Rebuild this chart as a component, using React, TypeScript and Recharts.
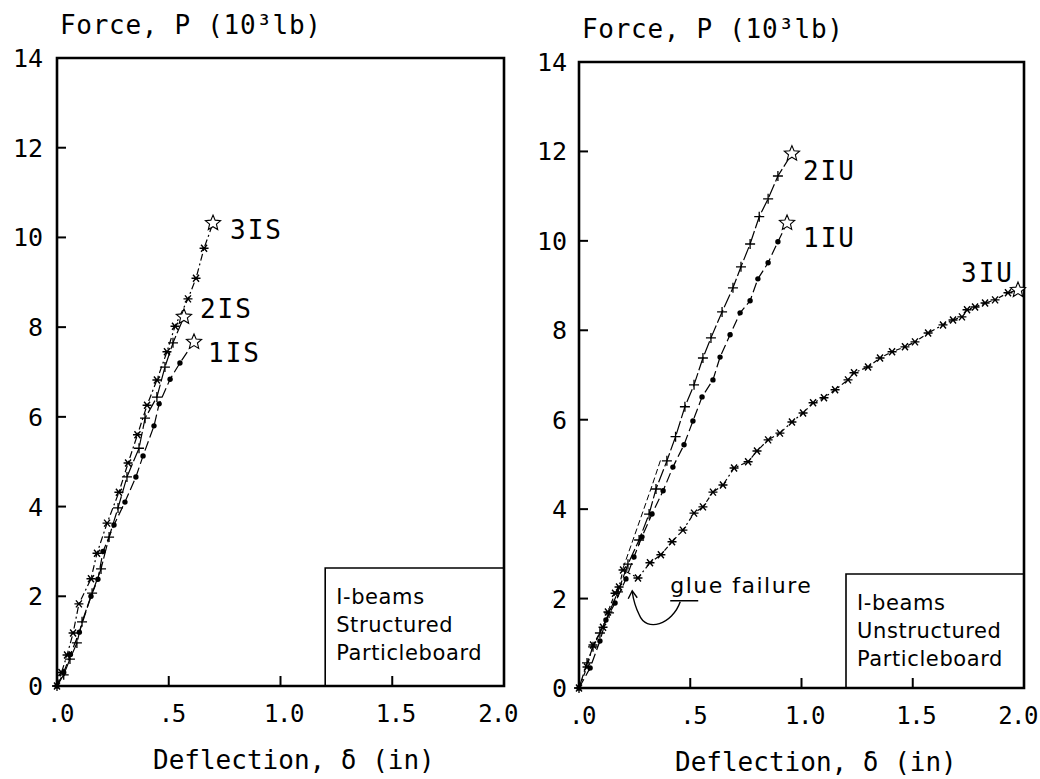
import React from "react";
import { LineChart, Line, XAxis, YAxis, ReferenceArea, ReferenceDot } from "recharts";

const xTicks = [0, 0.5, 1, 1.5, 2];
const xTickLabels = [".0", ".5", "1.0", "1.5", "2.0"];
const yTicks = [0, 2, 4, 6, 8, 10, 12, 14];

const forceTitle = "Force, P (10³lb)";
const deflTitle = "Deflection, δ (in)";
const structuredBox = ["I-beams", "Structured", "Particleboard"];
const unstructuredBox = ["I-beams", "Unstructured", "Particleboard"];
const glueNote = "glue failure";

// structured particleboard I-beams
const is1X = [0, 0.03, 0.06, 0.1, 0.152, 0.183, 0.206, 0.255, 0.304, 0.353, 0.385, 0.434, 0.457, 0.506, 0.55, 0.613];
const is1Y = [0, 0.3, 0.7, 1.2, 2.0, 2.38, 3.0, 3.59, 4.1, 4.66, 5.13, 5.8, 6.29, 6.84, 7.2, 7.67];
const is2X = [0, 0.03, 0.058, 0.089, 0.112, 0.157, 0.197, 0.233, 0.273, 0.313, 0.367, 0.394, 0.447, 0.483, 0.519, 0.568];
const is2Y = [0, 0.25, 0.6, 0.96, 1.43, 2.07, 2.61, 3.32, 3.97, 4.66, 5.3, 5.97, 6.44, 7.11, 7.65, 8.23];
const is3X = [0, 0.02, 0.045, 0.072, 0.098, 0.152, 0.179, 0.224, 0.277, 0.318, 0.36, 0.403, 0.447, 0.492, 0.528, 0.586, 0.622, 0.658, 0.698];
const is3Y = [0, 0.3, 0.69, 1.18, 1.83, 2.39, 2.96, 3.63, 4.32, 4.97, 5.6, 6.26, 6.82, 7.45, 8.02, 8.63, 9.09, 9.76, 10.32];

// unstructured particleboard I-beams
const iu1X = [0, 0.05, 0.094, 0.121, 0.162, 0.211, 0.247, 0.283, 0.328, 0.378, 0.422, 0.472, 0.512, 0.553, 0.602, 0.634, 0.679, 0.724, 0.769, 0.804, 0.85, 0.894, 0.935];
const iu1Y = [0, 0.45, 1.05, 1.52, 1.9, 2.44, 2.93, 3.38, 3.89, 4.41, 4.94, 5.44, 5.97, 6.51, 6.89, 7.4, 7.9, 8.39, 8.66, 9.15, 9.51, 9.98, 10.4];
const iu2X = [0, 0.036, 0.063, 0.094, 0.135, 0.175, 0.22, 0.27, 0.315, 0.346, 0.395, 0.434, 0.476, 0.517, 0.557, 0.593, 0.643, 0.692, 0.728, 0.769, 0.81, 0.85, 0.894, 0.957];
const iu2Y = [0, 0.56, 0.92, 1.23, 1.68, 2.15, 2.77, 3.31, 3.89, 4.45, 5.08, 5.62, 6.29, 6.78, 7.38, 7.83, 8.41, 8.95, 9.42, 9.93, 10.54, 10.94, 11.45, 11.95];
const iu3X = [0, 0.036, 0.063, 0.108, 0.13, 0.162, 0.18, 0.198, 0.265, 0.319, 0.368, 0.418, 0.467, 0.517, 0.557, 0.602, 0.647, 0.697, 0.76, 0.8, 0.85, 0.903, 0.957, 1.007, 1.052, 1.101, 1.151, 1.209, 1.236, 1.299, 1.353, 1.407, 1.465, 1.51, 1.569, 1.636, 1.681, 1.721, 1.744, 1.78, 1.825, 1.87, 1.928, 1.973];
const iu3Y = [0, 0.47, 0.96, 1.36, 1.7, 2.12, 2.26, 2.64, 2.46, 2.8, 2.98, 3.27, 3.53, 3.91, 4.05, 4.38, 4.54, 4.92, 5.06, 5.3, 5.55, 5.7, 5.95, 6.15, 6.38, 6.49, 6.67, 6.89, 7.05, 7.18, 7.38, 7.52, 7.63, 7.74, 7.94, 8.12, 8.23, 8.3, 8.46, 8.52, 8.61, 8.68, 8.84, 8.9];
const iuGhostX = [0.198, 0.33, 0.37];
const iuGhostY = [2.68, 4.55, 5.15];

const zip = (xs: number[], ys: number[]) => xs.map((x, i) => ({ x, y: ys[i] }));

const MONO = "'DejaVu Sans Mono', monospace";
const HAND = "'DejaVu Sans', sans-serif";

type Series = {
  name: string;
  data: { x: number; y: number }[];
  marker: "dot" | "plus" | "ast";
  dash: string;
  ldx: number;
  ldy: number;
  anchor?: "start" | "end";
};

const leftSeries: Series[] = [
  { name: "1IS", data: zip(is1X, is1Y), marker: "dot", dash: "10 4", ldx: 14, ldy: 20 },
  { name: "2IS", data: zip(is2X, is2Y), marker: "plus", dash: "14 3", ldx: 16, ldy: 1 },
  { name: "3IS", data: zip(is3X, is3Y), marker: "ast", dash: "7 3 2 3", ldx: 17, ldy: 16 },
];

const rightSeries: Series[] = [
  { name: "1IU", data: zip(iu1X, iu1Y), marker: "dot", dash: "10 4", ldx: 16, ldy: 24 },
  { name: "2IU", data: zip(iu2X, iu2Y), marker: "plus", dash: "14 3", ldx: 11, ldy: 26 },
  { name: "3IU", data: zip(iu3X, iu3Y), marker: "ast", dash: "5 3 2 3", ldx: -4, ldy: -8, anchor: "end" },
];

function starPath(cx: number, cy: number, R: number, r: number) {
  let d = "";
  for (let i = 0; i < 10; i++) {
    const a = ((-90 + i * 36) * Math.PI) / 180;
    const rad = i % 2 === 0 ? R : r;
    d += (i === 0 ? "M" : "L") + (cx + rad * Math.cos(a)).toFixed(2) + "," + (cy + rad * Math.sin(a)).toFixed(2);
  }
  return d + "Z";
}

function Marker({ cx, cy, kind }: { cx: number; cy: number; kind: string }) {
  if (kind === "dot") return <circle cx={cx} cy={cy} r={2.7} fill="#000" />;
  if (kind === "plus")
    return <path d={`M${cx - 5},${cy}H${cx + 5}M${cx},${cy - 5}V${cy + 5}`} stroke="#000" strokeWidth={1.3} />;
  return (
    <path
      d={`M${cx - 4.5},${cy}H${cx + 4.5}M${cx - 3},${cy - 3.5}L${cx + 3},${cy + 3.5}M${cx - 3},${cy + 3.5}L${cx + 3},${cy - 3.5}`}
      stroke="#000"
      strokeWidth={1.4}
    />
  );
}

const makeDot = (s: Series) => (p: any) => {
  const { cx, cy, index } = p;
  if (cx == null || cy == null) return <g key={`d${index}`} />;
  if (index === s.data.length - 1) {
    return (
      <g key={`d${index}`}>
        <path d={starPath(cx, cy, 8, 3.6)} fill="#fff" stroke="#000" strokeWidth={1.1} />
        <text
          x={cx + s.ldx}
          y={cy + s.ldy}
          textAnchor={s.anchor || "start"}
          fontFamily={MONO}
          fontSize={26}
          letterSpacing={2}
          fill="#000"
        >
          {s.name}
        </text>
      </g>
    );
  }
  return (
    <g key={`d${index}`}>
      <Marker cx={cx} cy={cy} kind={s.marker} />
    </g>
  );
};

function YTick(p: any) {
  const { x, y, payload, gap } = p;
  const v = payload.value;
  return (
    <g>
      {v > 0 && v < 14 ? <line x1={x} x2={x + 9} y1={y} y2={y} stroke="#000" strokeWidth={2} /> : null}
      <text x={x - gap} y={y + 9} textAnchor="end" fontFamily={MONO} fontSize={25} fill="#000">
        {v}
      </text>
    </g>
  );
}

function XTick(p: any) {
  const { x, y, payload } = p;
  const v = payload.value;
  const i = xTicks.indexOf(v);
  const last = v === 2;
  return (
    <g>
      {v > 0 && v < 2 ? <line x1={x} x2={x} y1={y} y2={y - 10} stroke="#000" strokeWidth={2} /> : null}
      <text
        x={last ? x + 13 : x + 3}
        y={y + 36}
        textAnchor={last ? "end" : "middle"}
        fontFamily={MONO}
        fontSize={24}
        letterSpacing={-1.5}
        fill="#000"
      >
        {xTickLabels[i]}
      </text>
    </g>
  );
}

function BoxText({ cx, cy, lines }: any) {
  return (
    <text fontFamily={HAND} fontSize={21} letterSpacing={0.6} fill="#000">
      {lines.map((t: string, i: number) => (
        <tspan key={t + i} x={cx + 11} y={cy + 36 + i * 28}>
          {t}
        </tspan>
      ))}
    </text>
  );
}

function GlueNote({ cx, cy }: any) {
  return (
    <g>
      <text x={cx} y={cy} fontFamily={HAND} fontSize={22} letterSpacing={1.5} fill="#000">
        {glueNote}
      </text>
      <path d={`M${cx},${cy + 8}H${cx + 28}`} stroke="#000" strokeWidth={1.5} />
      <path
        d={`M${cx + 10},${cy + 9} C${cx + 2},${cy + 32} ${cx - 24},${cy + 40} ${cx - 31},${cy + 22} C${cx - 35},${cy + 14} ${cx - 37},${cy + 6} ${cx - 38},${cy - 1}`}
        fill="none"
        stroke="#000"
        strokeWidth={1.4}
      />
      <path d={`M${cx - 42},${cy + 6}L${cx - 38},${cy - 2}L${cx - 33},${cy + 5}`} fill="none" stroke="#000" strokeWidth={1.4} />
    </g>
  );
}

function Panel({
  series,
  box,
  extra,
  width,
  top,
  bottom,
  right,
  yAxisWidth,
  gap,
  boxTop,
}: {
  series: Series[];
  box: string[];
  extra?: React.ReactNode;
  width: number;
  top: number;
  bottom: number;
  right: number;
  yAxisWidth: number;
  gap: number;
  boxTop: number;
}) {
  return (
    <LineChart width={width} height={779} margin={{ top, right, left: 0, bottom: 0 }}>
      <XAxis
        type="number"
        dataKey="x"
        domain={[0, 2]}
        ticks={xTicks}
        interval={0}
        tickSize={0}
        tickMargin={0}
        tickLine={false}
        axisLine={false}
        height={779 - bottom}
        tick={(p: any) => <XTick {...p} />}
      />
      <YAxis
        type="number"
        domain={[0, 14]}
        ticks={yTicks}
        interval={0}
        tickSize={0}
        tickMargin={0}
        tickLine={false}
        axisLine={false}
        width={yAxisWidth}
        tick={(p: any) => <YTick {...p} gap={gap} />}
      />
      <ReferenceArea x1={1.2} x2={2} y1={0} y2={boxTop} fill="#fff" fillOpacity={1} stroke="#000" strokeWidth={1.6} />
      <ReferenceDot x={1.2} y={boxTop} r={0} ifOverflow="visible" shape={(p: any) => <BoxText {...p} lines={box} />} />
      {extra}
      {series.map((s) => (
        <Line
          key={s.name}
          data={s.data}
          dataKey="y"
          type="linear"
          stroke="#000"
          strokeWidth={1.2}
          strokeDasharray={s.dash}
          dot={makeDot(s)}
          activeDot={false}
          isAnimationActive={false}
        />
      ))}
      <ReferenceArea x1={0} x2={2} y1={0} y2={14} fill="none" stroke="#000" strokeWidth={2.6} />
      <ReferenceDot
        x={0}
        y={14}
        r={0}
        ifOverflow="visible"
        shape={(p: any) => (
          <text x={p.cx + 3} y={p.cy - 24} fontFamily={MONO} fontSize={26} letterSpacing={0.7} fill="#000">
            {forceTitle}
          </text>
        )}
      />
      <ReferenceDot
        x={0}
        y={0}
        r={0}
        ifOverflow="visible"
        shape={(p: any) => (
          <text x={p.cx + 96} y={p.cy + 83} fontFamily={MONO} fontSize={26} fill="#000">
            {deflTitle}
          </text>
        )}
      />
    </LineChart>
  );
}

export default function App() {
  return (
    <div style={{ position: "absolute", left: 0, top: 0, width: 1040, height: 779, background: "#fff" }}>
      <div style={{ position: "absolute", left: 0, top: 0 }}>
        <Panel
          series={leftSeries}
          box={structuredBox}
          width={540}
          top={58}
          bottom={686}
          right={36}
          yAxisWidth={57}
          gap={14}
          boxTop={2.63}
        />
      </div>
      <div style={{ position: "absolute", left: 520, top: 0 }}>
        <Panel
          series={rightSeries}
          box={unstructuredBox}
          width={520}
          top={62}
          bottom={688}
          right={16}
          yAxisWidth={59}
          gap={12}
          boxTop={2.55}
          extra={[
            <Line
              key="ghost"
              data={zip(iuGhostX, iuGhostY)}
              dataKey="y"
              type="linear"
              stroke="#000"
              strokeWidth={1}
              strokeDasharray="6 3"
              dot={false}
              activeDot={false}
              isAnimationActive={false}
            />,
            <ReferenceDot key="glue" x={0.41} y={2.13} r={0} ifOverflow="visible" shape={(p: any) => <GlueNote {...p} />} />,
          ]}
        />
      </div>
    </div>
  );
}
